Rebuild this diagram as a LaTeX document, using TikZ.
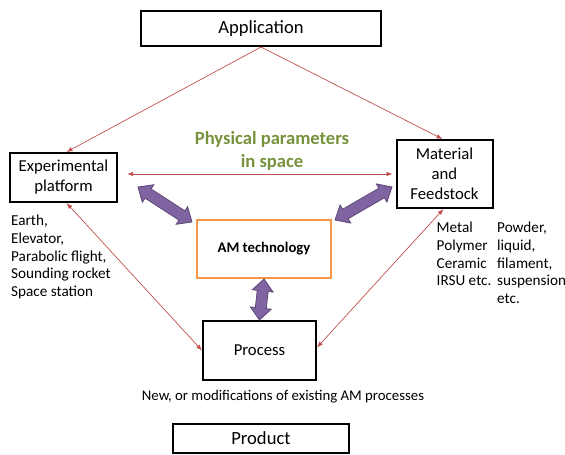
\documentclass[tikz,border=0pt]{standalone}
\usepackage{fontspec}
\setmainfont{Carlito}
\usetikzlibrary{arrows.meta,calc}
\definecolor{linkred}{RGB}{192,80,77}
\definecolor{amorange}{RGB}{247,150,70}
\definecolor{fatfill}{RGB}{128,100,162}
\definecolor{fatline}{RGB}{94,72,120}
\definecolor{paramgreen}{RGB}{118,146,60}
\tikzset{
  box/.style={draw, line width=2pt, align=center, inner sep=0pt, font=\fontsize{16.7}{20}\selectfont},
  bigbox/.style={box, font=\fontsize{18.6}{22}\selectfont},
  link/.style={draw=linkred, line width=0.7pt, >={Latex[length=6pt,width=4.5pt]}},
  fat/.style={draw=fatline, fill=fatfill, line width=0.8pt, line join=miter},
  list/.style={align=left, inner sep=0pt, anchor=north west, font=\fontsize{15.2}{17.7}\selectfont}
}
\newcommand{\fatarrow}[2]{%
  \draw[fat] let \p1=($(#2)-(#1)$), \n1={atan2(\y1,\x1)}, \n2={veclen(\x1,\y1)} in
    [shift={(#1)}, rotate=\n1]
    (0,0) -- (12,10.5) -- (12,5.5) -- (\n2-12,5.5) -- (\n2-12,10.5) -- (\n2,0)
    -- (\n2-12,-10.5) -- (\n2-12,-5.5) -- (12,-5.5) -- (12,-10.5) -- cycle;}
\begin{document}
\begin{tikzpicture}[x=1pt,y=-1pt]
\useasboundingbox (0,0) rectangle (565,455);
% boxes
\node[bigbox, minimum width=240pt, minimum height=35pt] (app) at (261,28.5) {Application};
\node[box, minimum width=107pt, minimum height=49pt] (exp) at (63.5,177.5) {Experimental\\platform};
\node[box, minimum width=96pt, minimum height=68pt] (mat) at (444.5,174) {Material\\and\\Feedstock};
\node[draw=amorange, line width=2pt, inner sep=0pt, minimum width=134pt, minimum height=58pt,
      font=\bfseries\fontsize{14.7}{17}\selectfont] (amt) at (264,249) {AM technology};
\node[box, minimum width=113pt, minimum height=59pt] (proc) at (259.5,350.5) {Process};
\node[bigbox, minimum width=176pt, minimum height=29pt] (prod) at (261,438.5) {Product};
% texts
\node[align=center, inner sep=0pt, text=paramgreen, font=\bfseries\fontsize{18.6}{23}\selectfont] (param) at (272,151) {Physical parameters\\in space};
\node[list] (platforms) at (11,215) {Earth,\\Elevator,\\Parabolic flight,\\Sounding rocket\\Space station};
\node[list] (materials) at (436.5,222) {Metal\\Polymer\\Ceramic\\IRSU etc.};
\node[list] (forms) at (497,222) {Powder,\\liquid,\\filament,\\suspension\\etc.};
\node[inner sep=0pt, font=\fontsize{14.8}{17}\selectfont] (newproc) at (283,397) {New, or modifications of existing AM processes};
% red links
\draw[link, ->] (app.south) -- ([xshift=3pt]exp.north);
\draw[link, ->] (app.south) -- ([xshift=-2pt]mat.north);
\draw[link, <->] ([xshift=9pt]exp.east |- mat.west) -- ([xshift=-3pt]mat.west);
\draw[link, <->] ([xshift=3pt]exp.south) -- (proc.west);
\draw[link, <->] ([xshift=-1pt]mat.south) -- ([yshift=3pt]proc.east);
% purple arrows
\coordinate (fa1) at (138,187);
\coordinate (fa2) at (192,222);
\coordinate (fb1) at (392,187);
\coordinate (fb2) at (335,220);
\fatarrow{fa1}{fa2}
\fatarrow{fb1}{fb2}
\fatarrow{amt.south}{proc.north}
\end{tikzpicture}
\end{document}
